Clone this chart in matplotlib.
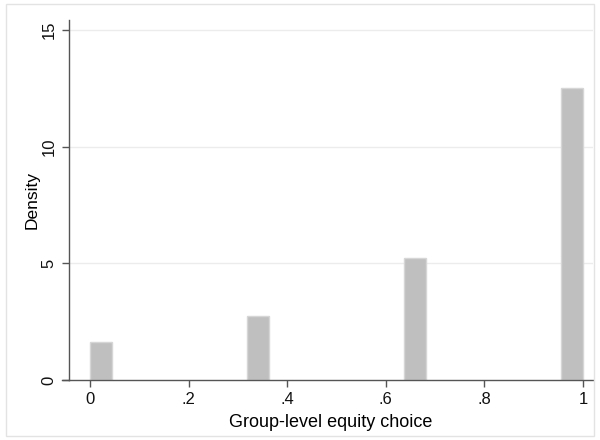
import numpy as np
import matplotlib
matplotlib.use("Agg")
import matplotlib.pyplot as plt
from matplotlib.patches import Rectangle

plt.rcParams['font.family'] = ['Liberation Sans', 'DejaVu Sans']

# histogram of group-level equity choice, 22 bins on [0, 1]
n_bins = 22
bin_index = [0, 7, 14, 21]          # bins holding 0, 1/3, 2/3, 1
density = [1.62, 2.73, 5.21, 12.5]
xticks = [0, .2, .4, .6, .8, 1]
xticklabels = ['0', '.2', '.4', '.6', '.8', '1']
yticks = [0, 5, 10, 15]

edges = np.linspace(0, 1, n_bins + 1)
width = edges[1] - edges[0]

fig = plt.figure(figsize=(6, 4.4), dpi=100)
fig.patches.append(Rectangle((0.01, 0.01), 0.98, 0.98, transform=fig.transFigure,
                             fill=False, edgecolor='#e3e3e3', linewidth=1))
ax = fig.add_axes([0.115, 0.1364, 0.873, 0.818])

ax.bar(edges[bin_index], density, width=width, align='edge',
       color='#bfbfbf', edgecolor='#d6d6d6', linewidth=1, zorder=2)

ax.set_xlim(-0.0426, 1.02)
ax.set_ylim(0, 15.43)
ax.set_xticks(xticks)
ax.set_xticklabels(xticklabels)
ax.set_yticks(yticks)
ax.set_yticklabels([str(v) for v in yticks], rotation=90, va='center')
for y in yticks[1:]:
    ax.axhline(y, color='#ececec', linewidth=1, zorder=1)

for s in ['top', 'right']:
    ax.spines[s].set_visible(False)
for s in ['left', 'bottom']:
    ax.spines[s].set_color('#555555')
    ax.spines[s].set_linewidth(1)
# x axis line runs a little past the y axis, as in Stata
ax.plot([-0.014, 0], [0, 0], transform=ax.transAxes, color='#555555',
        linewidth=1, clip_on=False)
ax.tick_params(axis='both', direction='out', length=5, width=1, color='#555555',
               labelsize=12, labelcolor='#111111', pad=4)

ax.set_xlabel('Group-level equity choice', fontsize=13, va='center')
ax.set_ylabel('Density', fontsize=12.5, va='center')
ax.xaxis.set_label_coords(0.5, -0.119)
ax.yaxis.set_label_coords(-0.0706, 0.5)

fig.savefig('out.png', dpi=100, facecolor='white')
